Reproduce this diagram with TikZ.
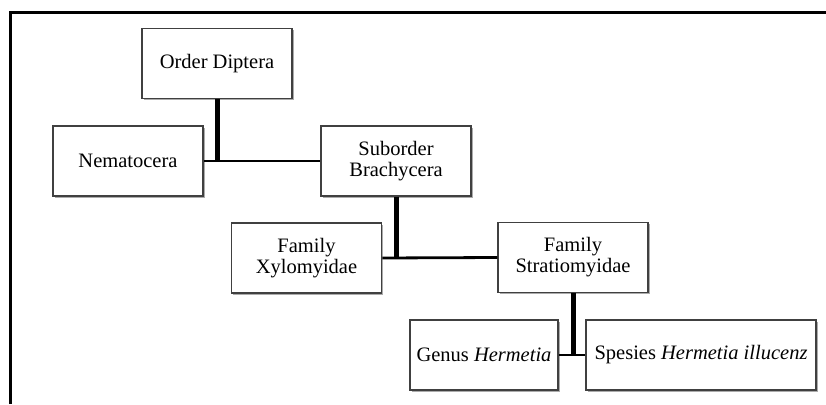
\documentclass[tikz,border=0pt]{standalone}
\usepackage{fontspec}
\setmainfont{Liberation Serif}
\usepackage{tikz}
\usetikzlibrary{shadows, calc}

\begin{document}
\begin{tikzpicture}[
  x=1pt, y=-1pt,
  box/.style={rectangle, draw=black!75, line width=1.5pt, fill=white,
              minimum width=150pt, minimum height=70pt, align=center,
              drop shadow={shadow xshift=1.6pt, shadow yshift=-1.6pt,
                           fill=black!60, opacity=0.55}},
  widebox/.style={box, minimum width=230pt},
  stem/.style={line width=5pt},
  branch/.style={line width=2.8pt},
  every node/.style={font=\fontsize{20.5}{21}\selectfont}
]
  \useasboundingbox (0,0) rectangle (826,404);
  % outer frame, cut off at right and bottom
  \draw[line width=3pt] (10.5,404) -- (10.5,12.5) -- (826,12.5);

  \node[box] (order) at (217,63.5) {Order Diptera};
  \node[box] (nema)  at (128,161) {Nematocera};
  \node[box] (subord) at (396,161) {Suborder\\Brachycera};
  \node[box] (xylo)  at (306.5,258) {Family\\Xylomyidae};
  \node[box] (strat) at (573,257.5) {Family\\Stratiomyidae};
  \node[box, minimum width=148pt] (genus) at (484,355) {Genus \textit{Hermetia}};
  \node[widebox] (spes) at (701,355) {Spesies \textit{Hermetia illucenz}};

  % tree connectors
  \coordinate (j1) at (order.south |- nema.east);
  \coordinate (j2) at (subord.south |- xylo.east);
  \coordinate (j3) at (strat.south |- genus.east);
  \draw[branch] (nema.east) -- (subord.west);
  \draw[stem] (order.south) -- (j1);
  \draw[branch] (xylo.east) -- (strat.west);
  \draw[stem] (subord.south) -- (j2);
  \draw[branch] (genus.east) -- (spes.west);
  \draw[stem] (strat.south) -- (j3);
\end{tikzpicture}
\end{document}
